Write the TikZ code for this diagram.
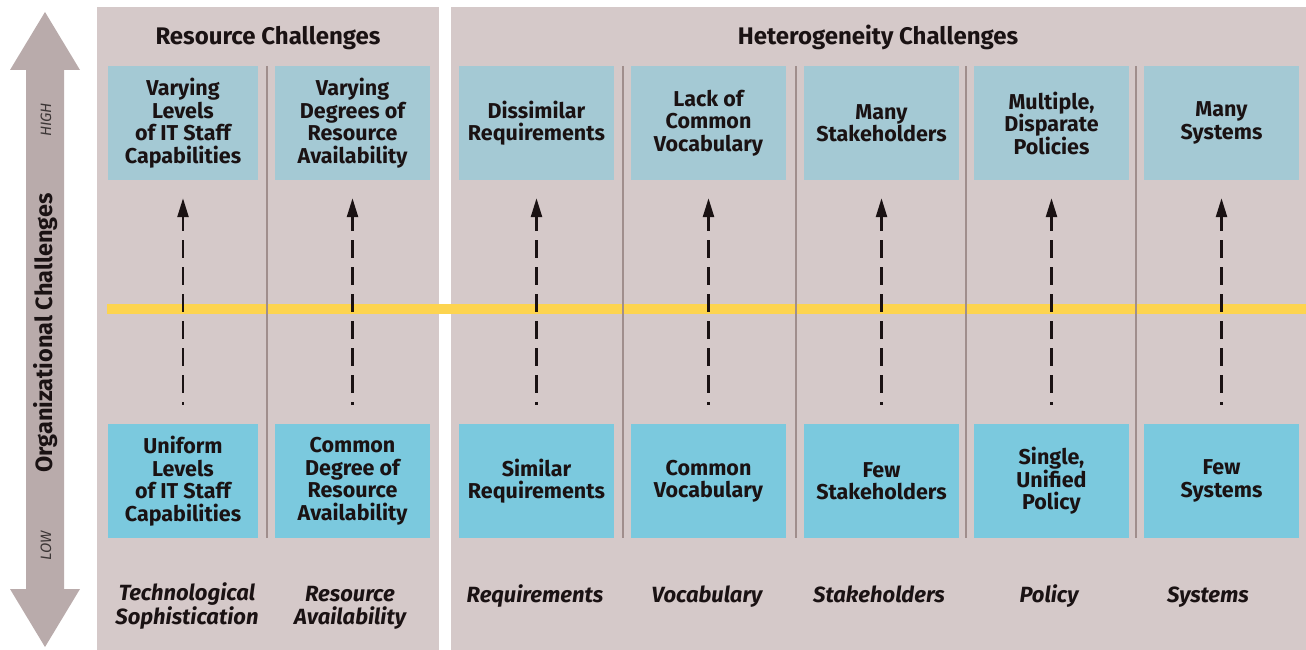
\documentclass[tikz,border=0pt]{standalone}
\usepackage{fontspec}
\setmainfont{Fira Sans}
\usepackage{xcolor}
\usepackage{tikz}
\usetikzlibrary{arrows.meta}
\definecolor{panelbg}{HTML}{D5C9C9}
\definecolor{axisgray}{HTML}{B9ABAB}
\definecolor{highblue}{HTML}{A4C9D4}
\definecolor{lowblue}{HTML}{7BC9DE}
\definecolor{midyellow}{HTML}{FDD44F}
\definecolor{divgray}{HTML}{A08E8C}
\definecolor{inkblack}{HTML}{1A1213}
\tikzset{
    tnode/.style = {align=center, inner sep=0pt, text centered, text=inkblack},
    high_box/.style = {tnode, rectangle, fill=highblue, minimum width=155pt, minimum height=114pt, font=\bfseries\fontsize{21.5}{22.5}\selectfont},
    low_box/.style = {high_box, fill=lowblue},
    head_label/.style = {tnode, anchor=base, font=\bfseries\fontsize{24}{24}\selectfont},
    foot_label/.style = {tnode, anchor=base, font=\bfseries\itshape\fontsize{22}{22.5}\selectfont},
    axis_label/.style = {tnode, rotate=90, font=\bfseries\fontsize{23.5}{24}\selectfont},
    level_label/.style = {tnode, rotate=90, font=\itshape\fontsize{15}{16}\selectfont, text=inkblack!85},
    rise/.style = {->, draw=inkblack, line width=2.5pt, dash pattern=on 18pt off 9pt, dash phase=15pt, shorten <=19pt, shorten >=18pt},
    divider/.style = {draw=divgray, line width=1.5pt}
}

\begin{document}
\begin{tikzpicture}
            [x=1pt, y=-1pt, >={Triangle[length=19pt, width=11pt]}]

            \useasboundingbox (0,0) rectangle (1306,650);

            % background panels and the middle line
            \fill[panelbg] (97,7) rectangle (439,650);
            \fill[panelbg] (451,7) rectangle (1306,650);
            \fill[midyellow] (107,304) rectangle (1306,314);

            % organizational axis
            \fill[axisgray] (45,12) -- (80,70) -- (64,70) -- (64,589) -- (80,589) -- (45,647)
                -- (10,589) -- (26,589) -- (26,70) -- (10,70) -- cycle;
            \node [axis_label] (org_axis) at (46,333) {Organizational Challenges};
            \node [level_label] (high_mark) at (46,120) {HIGH};
            \node [level_label] (low_mark) at (46,546) {LOW};

            \node [head_label] (res_head) at (268,45) {Resource Challenges};
            \node [head_label] (het_head) at (878,45) {Heterogeneity Challenges};

            % column dividers
            \draw[divider] (267,66) -- (267,538);
            \draw[divider] (623,66) -- (623,538);
            \draw[divider] (796,66) -- (796,538);
            \draw[divider] (966,66) -- (966,538);
            \draw[divider] (1136,66) -- (1136,538);

            % high end
            \node [high_box, minimum width=150pt] (top_tech) at (183,123) {Varying\\Levels\\of IT Staff\\Capabilities};
            \node [high_box] (top_avail) at (352.5,123) {Varying\\Degrees of\\Resource\\Availability};
            \node [high_box] (top_req) at (536.5,123) {Dissimilar\\Requirements};
            \node [high_box] (top_voc) at (708.5,123) {Lack of\\Common\\Vocabulary};
            \node [high_box] (top_stake) at (881.5,123) {Many\\Stakeholders};
            \node [high_box] (top_pol) at (1051.5,123) {Multiple,\\Disparate\\Policies};
            \node [high_box] (top_sys) at (1221.5,123) {Many\\Systems};

            % low end
            \node [low_box, minimum width=150pt] (low_tech) at (183,481) {Uniform\\Levels\\of IT Staff\\Capabilities};
            \node [low_box] (low_avail) at (352.5,481) {Common\\Degree of\\Resource\\Availability};
            \node [low_box] (low_req) at (536.5,481) {Similar\\Requirements};
            \node [low_box] (low_voc) at (708.5,481) {Common\\Vocabulary};
            \node [low_box] (low_stake) at (881.5,481) {Few\\Stakeholders};
            \node [low_box] (low_pol) at (1051.5,481) {Single,\\Unified\\Policy};
            \node [low_box] (low_sys) at (1221.5,481) {Few\\Systems};

            \draw[rise] (low_tech) -- (top_tech);
            \draw[rise] (low_avail) -- (top_avail);
            \draw[rise] (low_req) -- (top_req);
            \draw[rise] (low_voc) -- (top_voc);
            \draw[rise] (low_stake) -- (top_stake);
            \draw[rise] (low_pol) -- (top_pol);
            \draw[rise] (low_sys) -- (top_sys);

            % dimension names (base is the last line)
            \node [foot_label] (foot_tech) at (187,624) {Technological\\Sophistication};
            \node [foot_label] (foot_avail) at (350,624) {Resource\\Availability};
            \node [foot_label] (foot_req) at (535,602) {Requirements};
            \node [foot_label] (foot_voc) at (707,602) {Vocabulary};
            \node [foot_label] (foot_stake) at (879,602) {Stakeholders};
            \node [foot_label] (foot_pol) at (1049,602) {Policy};
            \node [foot_label] (foot_sys) at (1208,602) {Systems};
\end{tikzpicture}
\end{document}
